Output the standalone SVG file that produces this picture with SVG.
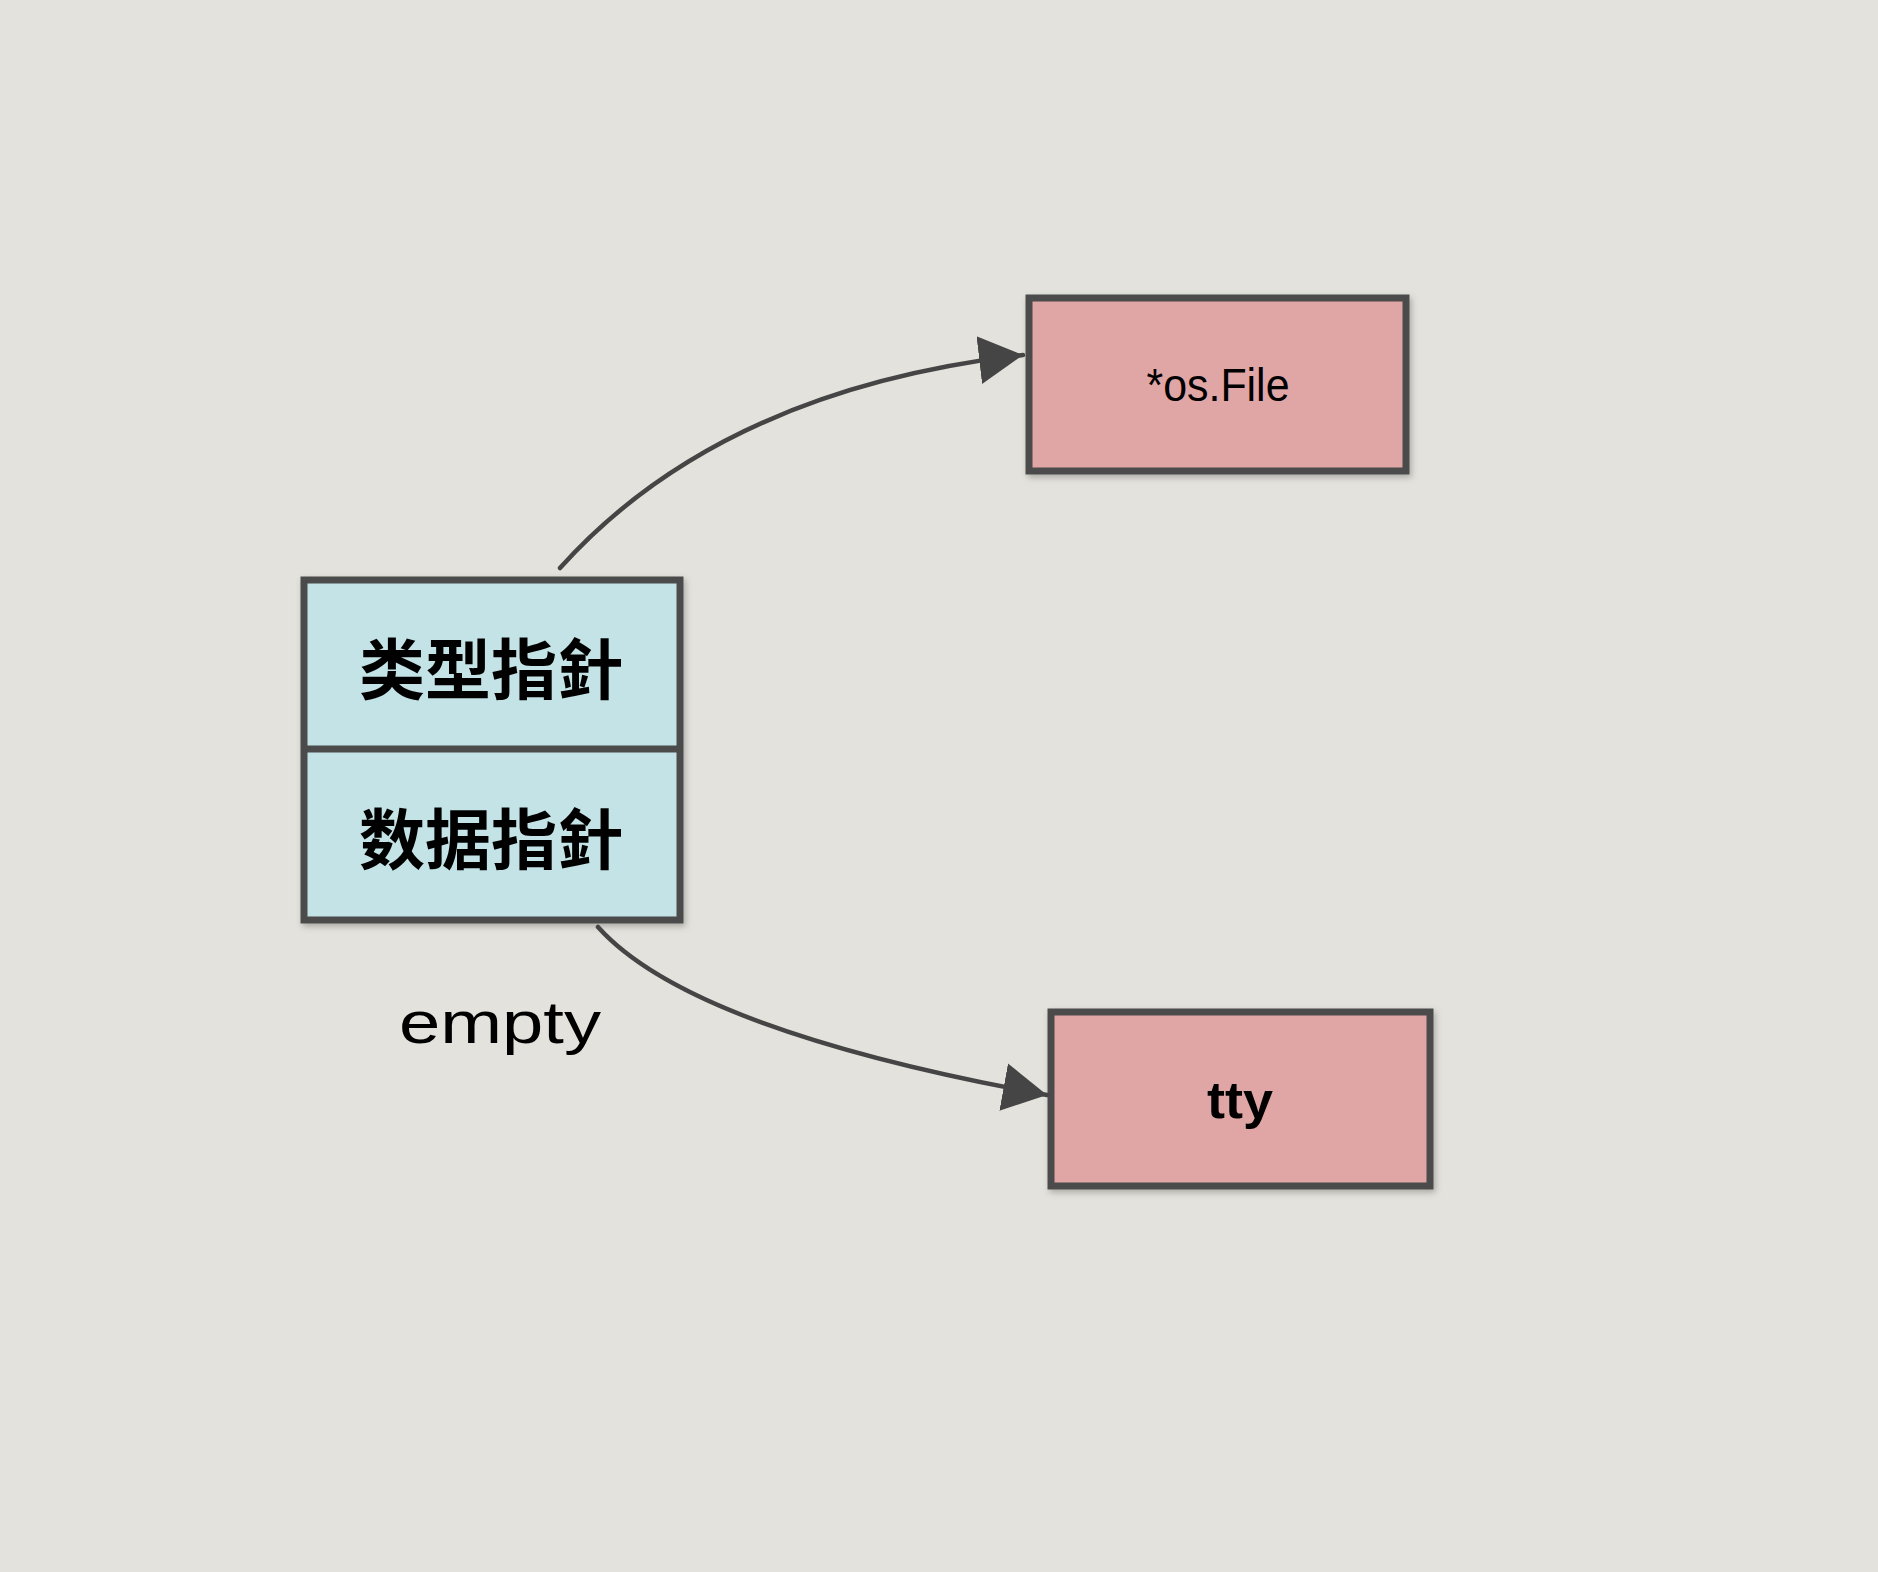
<svg xmlns="http://www.w3.org/2000/svg" width="1878" height="1572" viewBox="0 0 1878 1572">
<style>
.bg{fill:#e3e2dc}
.box{stroke:#4b4b4b;stroke-width:7;filter:url(#sh)}
.cyan{fill:#c4e3e6}
.pink{fill:#e0a5a5}
.cn{font-family:"Noto Sans CJK SC","Noto Sans CJK TC",sans-serif;font-weight:700;font-size:66px;fill:#000;text-anchor:middle;dominant-baseline:central}
.lbl{font-family:"Liberation Sans",sans-serif;fill:#000;text-anchor:middle;dominant-baseline:central}
.edge{fill:none;stroke:#454545;stroke-width:4.5;stroke-linecap:round}
</style>
<defs>
<filter id="sh" x="-10%" y="-10%" width="120%" height="130%">
<feDropShadow dx="2" dy="3" stdDeviation="3" flood-color="#000" flood-opacity="0.25"/>
</filter>
<marker id="arr" markerUnits="userSpaceOnUse" markerWidth="46" markerHeight="52" refX="44" refY="25" orient="auto" viewBox="0 0 46 52">
<path d="M0,1 L44,25 L0,49 Z" fill="#454545"/>
</marker>
</defs>
<rect class="bg" x="0" y="0" width="1878" height="1572"/>
<g id="iface">
<rect class="box cyan" x="304" y="580" width="376" height="340"/>
<line x1="304" y1="749" x2="680" y2="749" stroke="#4b4b4b" stroke-width="7"/>
<text class="cn" x="491" y="665">类型指針</text>
<text class="cn" x="491" y="835">数据指針</text>
</g>
<g id="empty-label">
<text class="lbl" x="500" y="1022" font-size="60" textLength="202" lengthAdjust="spacingAndGlyphs">empty</text>
</g>
<g id="osfile">
<rect class="box pink" x="1029" y="298" width="377" height="173"/>
<text class="lbl" x="1218" y="385" font-size="46" textLength="143" lengthAdjust="spacingAndGlyphs">*os.File</text>
</g>
<g id="tty">
<rect class="box pink" x="1051" y="1012" width="379" height="174"/>
<text class="lbl" x="1240" y="1100" font-size="52" font-weight="700" textLength="66" lengthAdjust="spacingAndGlyphs">tty</text>
</g>
<g id="connectors">
<path class="edge" d="M560,568 Q720,390 1023,355" marker-end="url(#arr)"/>
<path class="edge" d="M598,927 Q690,1030 1047,1095" marker-end="url(#arr)"/>
</g>
</svg>
